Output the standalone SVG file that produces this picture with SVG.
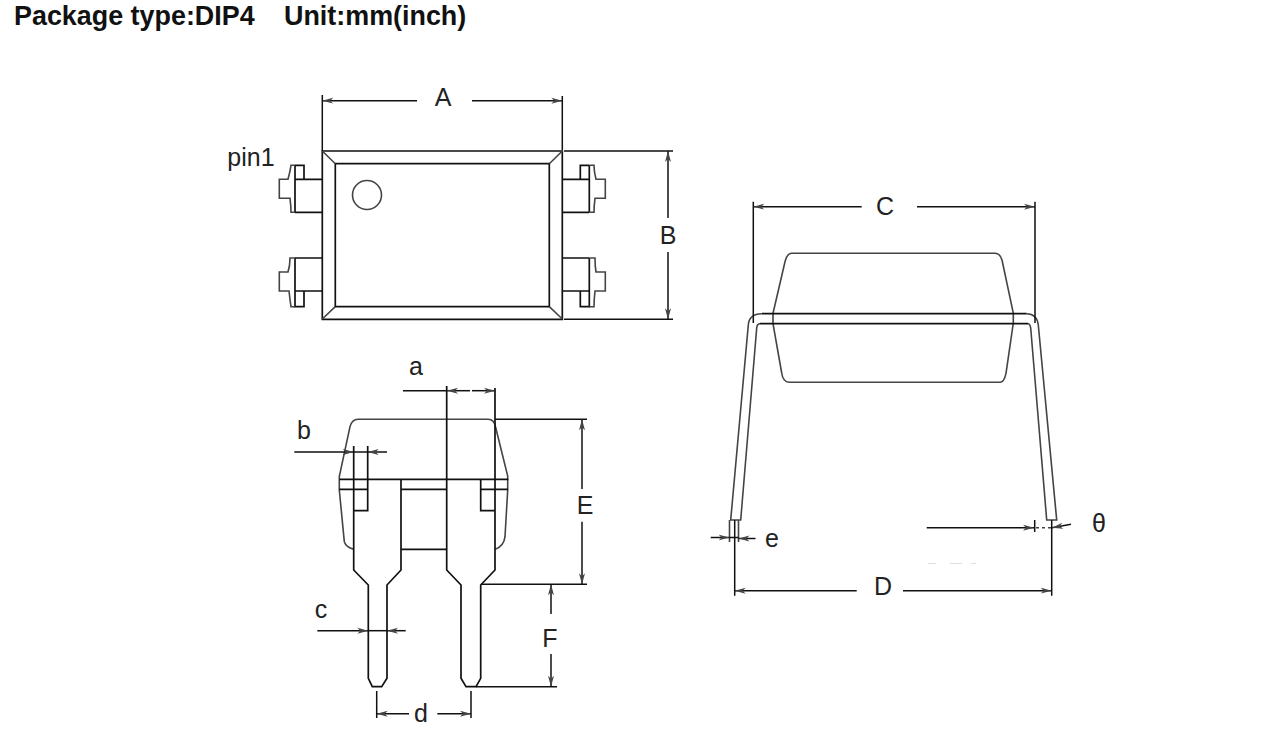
<svg xmlns="http://www.w3.org/2000/svg" width="1268" height="746" viewBox="0 0 1268 746">
<defs>
<marker id="ah" markerUnits="userSpaceOnUse" markerWidth="13" markerHeight="9" refX="11" refY="4.5" orient="auto-start-reverse"><path d="M0 1.5L11 4.5L0 7.5L3 4.5Z" fill="#444"/></marker>
</defs>
<style>
.o{fill:none;stroke:#111;stroke-width:1.7}
.s{fill:none;stroke:#444;stroke-width:1.6}
.d{fill:none;stroke:#111;stroke-width:1.5}
.a{marker-end:url(#ah)}
.l{font-family:"Liberation Sans",Arial,sans-serif;font-size:25px;fill:#222;text-anchor:middle}
.t{font-family:"Liberation Sans",Arial,sans-serif;font-size:26.9px;font-weight:bold;fill:#111}
</style>
<rect width="1268" height="746" fill="#fff"/>
<text class="t" x="14" y="25">Package type:DIP4</text>
<text class="t" x="284" y="25">Unit:mm(inch)</text>

<g id="top-view">
<path class="o" d="M322.3 151H562.3V319.3H322.3Z"/>
<path class="o" d="M335.3 163.7H549.3V306.7H335.3Z"/>
<path class="s" d="M322.3 151L335.3 163.7M562.3 151L549.3 163.7M322.3 319L335.3 306.7M562.3 319L549.3 306.7"/>
<circle class="s" cx="367" cy="195" r="14.5"/>
<text class="l" x="251" y="166">pin1</text>
</g>
<g id="pin-top-left">
<path class="o" d="M322 179.3H295M295 212.3H322M295 165.3V212.3M295 165.3H304V179.3"/>
<path class="s" d="M295 165.3H291Q290 172 288 179.3H279.3V198.3H290Q291 206 291 212.3H295"/>
</g>
<g id="pin-bottom-left">
<path class="o" d="M322 258H295M295 291H322M295 258V306.7H304V291"/>
<path class="s" d="M295 258H290Q290 266 288 272H279.3V291H289Q290 300 291 306.7H295"/>
</g>
<g id="pin-top-right">
<path class="o" d="M562.5 179.3H589.3M589.3 212.3H562.5M589.3 165.3V212.3M589.3 165.3H580.3V179.3"/>
<path class="s" d="M589.3 165.3H594Q594 172 596 179.3H605.3V198.3H595Q594 206 594 212.3H589.3"/>
</g>
<g id="pin-bottom-right">
<path class="o" d="M562.5 258H589.3M589.3 291H562.5M589.3 258V306.7H580.3V291"/>
<path class="s" d="M589.3 258H595Q595 266 596 272H605.3V291H595Q594 300 594 306.7H589.3"/>
</g>

<g id="front-view">
<path class="s" d="M353.7 549.3Q346 547 344.3 541.7L339.3 490V476.7L350 426.7Q352 419.3 358 419.3H488.3Q494 419.3 495.5 426.7L507.7 476V490L505 536.7Q504 546 495.3 549.3"/>
<path class="o" d="M339.3 479.3H508.3M339.3 489.3H368M401 489.3H447M481 489.3H508"/>
<path class="o" d="M401 479.3V570L387 585V678.3L381.7 686.7H372.3L368.3 678.3V585L353.7 570V446M367.7 446V510.7H353.7"/>
<path class="o" d="M446.7 386V570L461 585V678.3L466 686.7H476L480.7 678.3V585L495 570V388M480.7 479.3V510.7H495"/>
<path class="o" d="M401 549.3H446.7"/>
</g>

<g id="side-view">
<path class="s" d="M791.7 253.3H995Q1000 253.3 1002 260L1013.3 313V323L1006 373.3Q1004 382.3 1000 382.3H789Q783 382 781.7 373L773 323.7V313.3L785 261.7Q787 253.3 791.7 253.3Z"/>
<path class="o" d="M761.7 313.7H1026.7M760 323.7H1028"/>
<path class="s" d="M761.7 313.7Q749 314 748.3 325L730.7 520H740.7L756.7 328Q757 323.7 760 323.7M1026.7 313.7Q1037 314 1038.3 325L1056.7 520H1046.7L1030.7 328Q1030 323.7 1028 323.7"/>
</g>

<g id="connectors">
<path class="d" d="M322.3 95V151M562.3 96V150"/>
<path class="d a" d="M417 100.7H322.3"/>
<path class="d a" d="M472 100.7H562.3"/>
<path class="d" d="M564 151H673M564 319.3H673"/>
<path class="d a" d="M668 218V151"/>
<path class="d a" d="M668 252V319.3"/>
<path class="d" d="M403 390.7H447"/>
<path class="d a" d="M470 390.7H447"/>
<path class="d a" d="M472 390.7H495"/>
<path class="d a" d="M294.3 452H353.7"/>
<path class="d a" d="M387 452H367.7"/>
<path class="d" d="M353.7 452H367.7"/>
<path class="d" d="M495 419.3H587M481 584.3H587M476 686.7H557"/>
<path class="d a" d="M582 489V419.3"/>
<path class="d a" d="M582 521.7V584.3"/>
<path class="d a" d="M551 614V584.3"/>
<path class="d a" d="M551 654V686.7"/>
<path class="d a" d="M317.3 630.7H368.3"/>
<path class="d a" d="M405.7 630.7H387"/>
<path class="d" d="M368.3 630.7H387"/>
<path class="d" d="M376.7 691V718M471 691V718"/>
<path class="d a" d="M409 713.7H376.7"/>
<path class="d a" d="M437.3 713.7H471"/>
<path class="d" d="M753.3 201.7V323M1035 201.7V323"/>
<path class="d a" d="M861.7 206.7H753.3"/>
<path class="d a" d="M917 206.7H1035"/>
<path class="s" d="M729.5 520V542M738.5 520V542"/>
<path class="d" d="M734.7 520V595.7M1051.7 520V595.7"/>
<path class="d a" d="M710.7 537.5H729.5"/>
<path class="d" d="M729.5 537.5H738.5"/>
<path class="d a" d="M755.5 538.5H738.5"/>
<path class="d a" d="M856.7 590.7H734.7"/>
<path class="d a" d="M903 590.7H1051.7"/>
<path class="d a" d="M926.7 527.7H1034"/>
<path class="d" d="M1034.7 520V532"/>
<path class="s" stroke-dasharray="3 3" d="M1036 527.7H1051"/>
<path class="d a" d="M1071 524.3L1052 527.7"/>
<path fill="none" stroke="#ddd" stroke-width="1" d="M928 563.5H936M950 563.5H962M971 563.5H976"/>
</g>

<g id="labels">
<text class="l" x="443" y="106">A</text>
<text class="l" x="668" y="244">B</text>
<text class="l" x="416" y="375">a</text>
<text class="l" x="304" y="439">b</text>
<text class="l" x="585" y="514">E</text>
<text class="l" x="321" y="618">c</text>
<text class="l" x="550" y="647">F</text>
<text class="l" x="421" y="722">d</text>
<text class="l" x="885" y="215">C</text>
<text class="l" x="772" y="547">e</text>
<text class="l" x="883" y="595">D</text>
<text class="l" x="1099" y="532">θ</text>
</g>
</svg>
